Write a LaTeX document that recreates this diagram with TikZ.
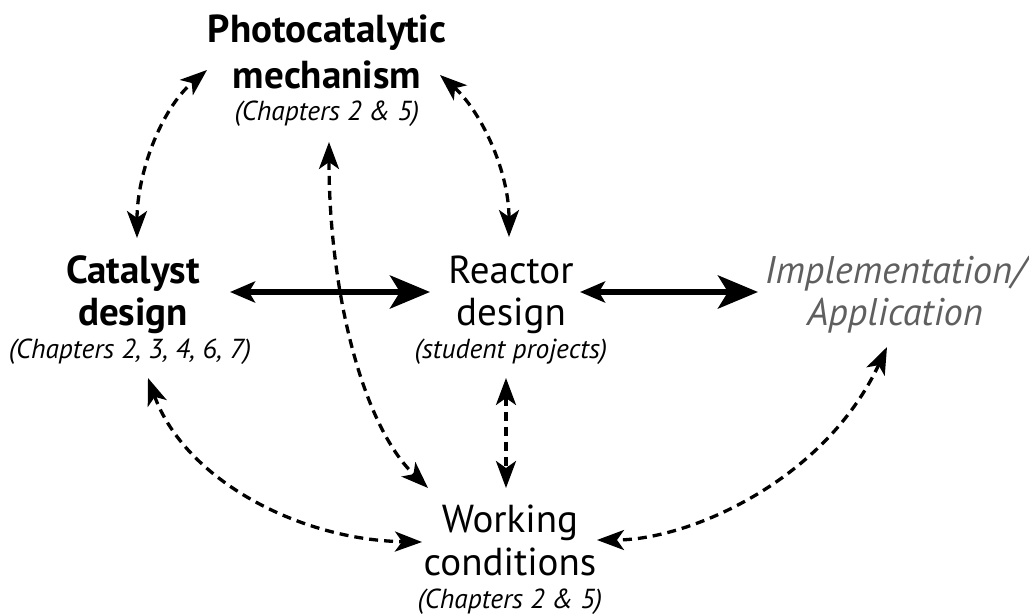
\documentclass[tikz,border=0pt]{standalone}
\usepackage{fontspec}
\setmainfont{PT Sans}
\usetikzlibrary{arrows.meta}
\definecolor{impl}{RGB}{95,95,95}
\tikzset{
  big/.style={anchor=base,inner sep=0pt,font=\fontsize{39}{44}\selectfont},
  bigb/.style={big,font=\fontsize{39}{44}\selectfont\bfseries},
  bigi/.style={big,text=impl,font=\fontsize{38.5}{44}\selectfont\itshape},
  small/.style={anchor=base,inner sep=0pt,font=\fontsize{27.5}{30}\selectfont\itshape},
  thick arrow/.style={line width=6pt,{Stealth[length=25pt,width=21pt,inset=6pt]}-{Stealth[length=40pt,width=33pt,inset=10pt]}},
  dash arrow/.style={line width=3.3pt,dash pattern=on 9pt off 6pt,{Stealth[length=27pt,width=20pt,inset=7pt]}-{Stealth[length=27pt,width=20pt,inset=7pt]}}
}
\begin{document}
\begin{tikzpicture}[x=1pt,y=-1pt]
\useasboundingbox (0,0) rectangle (1029,614);
% nodes
\node[bigb] (photoA) at (327,42) {Photocatalytic};
\node[bigb] (photoB) at (327,88) {mechanism};
\node[small] (photoC) at (327,120) {(Chapters 2 \& 5)};
\node[bigb] (catA) at (133,283) {Catalyst};
\node[bigb] (catB) at (133,325) {design};
\node[small] (catC) at (130,358) {(Chapters 2, 3, 4, 6, 7)};
\node[big] (reaA) at (511,283) {Reactor};
\node[big] (reaB) at (511,325) {design};
\node[small] (reaC) at (511,358) {(student projects)};
\node[bigi] (impA) at (895,283) {Implementation/};
\node[bigi] (impB) at (895,325) {Application};
\node[big] (worA) at (510,532) {Working};
\node[big] (worB) at (510,575) {conditions};
\node[small] (worC) at (510,608) {(Chapters 2 \& 5)};
% connector ends
\coordinate (pL) at (207,70);
\coordinate (pR) at (440,75);
\coordinate (pB) at (329,142);
\coordinate (cT) at (137,238);
\coordinate (cB) at (148,378);
\coordinate (cR) at (230,292);
\coordinate (rL) at (430,292);
\coordinate (rR) at (580,292);
\coordinate (rT) at (509,237);
\coordinate (rB) at (506,378);
\coordinate (iL) at (758,292);
\coordinate (iB) at (887,347);
\coordinate (wT) at (506,488);
\coordinate (wTL) at (428,488);
\coordinate (wL) at (422,542);
\coordinate (wR) at (597,540);
% connectors
\draw[thick arrow] (cR) -- (rL);
\draw[thick arrow] (rR) -- (iL);
\draw[dash arrow] (cT) .. controls (137,175) and (160,110) .. (pL);
\draw[dash arrow] (pR) .. controls (480,110) and (509,170) .. (rT);
\draw[dash arrow] (pB) .. controls (329,290) and (362,425) .. (wTL);
\draw[dash arrow] (rB) -- (wT);
\draw[dash arrow] (cB) .. controls (185,480) and (300,540) .. (wL);
\draw[dash arrow] (iB) .. controls (825,480) and (690,540) .. (wR);
\end{tikzpicture}
\end{document}
